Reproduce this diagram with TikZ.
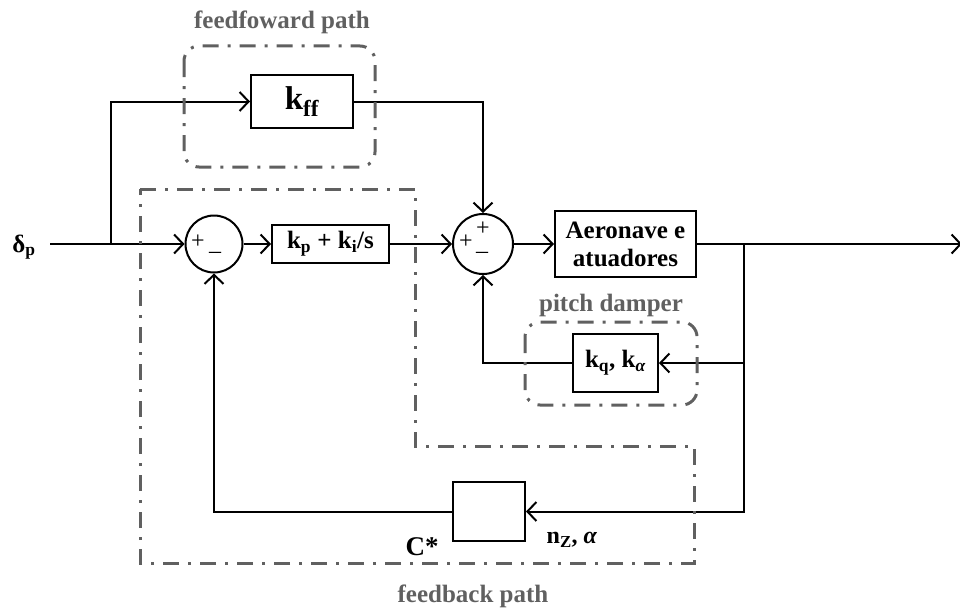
\documentclass[tikz,border=0pt]{standalone}
\usepackage{fontspec}
\setmainfont{Liberation Serif}
\usetikzlibrary{positioning,arrows.meta,calc}
\definecolor{grpgray}{RGB}{96,96,96}

\begin{document}
\begin{tikzpicture}[
  x=1pt, y=-1pt,
  blk/.style={draw, line width=2pt, align=center, inner sep=1pt,
              font=\fontsize{25}{28}\selectfont\bfseries},
  sumop/.style={draw, circle, line width=2pt, inner sep=0pt},
  sgn/.style={inner sep=0pt, font=\fontsize{24}{24}\selectfont},
  txt/.style={inner sep=0pt, font=\fontsize{24}{26}\selectfont\bfseries},
  grp/.style={draw=grpgray, line width=3pt,
              dash pattern=on 16pt off 9pt on 3pt off 9pt},
  grplbl/.style={inner sep=0pt, text=grpgray, font=\fontsize{25}{28}\selectfont\bfseries},
  wire/.style={line width=2pt},
  arr/.style={wire, -{Straight Barb[length=9pt, width=19pt, line width=2pt]}}]
\useasboundingbox (0,0) rectangle (960,610);
% blocks
\node[blk, minimum width=102pt, minimum height=53pt,
      font=\fontsize{33}{36}\selectfont\bfseries] (kff) at (302,101.5) {k\textsubscript{ff}};
\node[sumop, minimum size=57pt] (sum1) at (214,244) {};
\node[blk, minimum width=117pt, minimum height=38pt] (pi) at (330.5,244) {k\textsubscript{p} + k\textsubscript{i}/s};
\node[sumop, minimum size=60pt] (sum2) at (483,244) {};
\node[blk, minimum width=141pt, minimum height=66pt] (plant) at (625.5,244) {Aeronave e\\atuadores};
\node[blk, minimum width=85pt, minimum height=58pt] (kq) at (615.5,363) {k\textsubscript{q}, k\textsubscript{\textit{α}}};
\node[blk, minimum width=72pt, minimum height=59pt] (cstar) at (489,511.5) {};
% signs
\node[sgn] (s1p) at (198,242) {+};
\node[sgn] (s1m) at (215,255) {–};
\node[sgn] (s2l) at (466,242) {+};
\node[sgn] (s2t) at (483,229) {+};
\node[sgn] (s2m) at (482,255) {–};
% labels
\node[txt, font=\fontsize{25}{28}\selectfont\bfseries] (dp) at (24,247) {δ\textsubscript{p}};
\node[txt, font=\fontsize{27}{28}\selectfont\bfseries] (cslbl) at (422,547) {C*};
\node[txt] (nzlbl) at (572,540) {n\textsubscript{Z}, \textit{α}};
% wires
\coordinate (in) at (50,244);
\coordinate (br) at (111,244);
\coordinate (tap) at (744,244);
\coordinate (out) at (962,244);
\draw[wire] (in) -- (br);
\draw[arr] (br) -- (sum1.west);
\draw[arr] (br) |- (kff.west);
\draw[arr] (kff.east) -| (sum2.north);
\draw[arr] (sum1.east) -- (pi.west);
\draw[arr] (pi.east) -- (sum2.west);
\draw[arr] (sum2.east) -- (plant.west);
\draw[arr] (plant.east) -- (out);
\draw[arr] (tap) |- (kq.east);
\draw[arr] (tap) |- (cstar.east);
\draw[arr] (kq.west) -| (sum2.south);
\draw[arr] (cstar.west) -| (sum1.south);
% groups
\draw[grp, rounded corners=15pt] (184,46) rectangle (375,167);
\draw[grp, rounded corners=15pt] (525,322) rectangle (697,405);
\draw[grp] (140,189) -- (415,189) -- (415,446) -- (694,446) -- (694,563) -- (140,563) -- cycle;
\node[grplbl] (fflbl) at (282,22) {feedfoward path};
\node[grplbl] (pdlbl) at (611,305) {pitch damper};
\node[grplbl] (fblbl) at (473,596) {feedback path};
\end{tikzpicture}
\end{document}
